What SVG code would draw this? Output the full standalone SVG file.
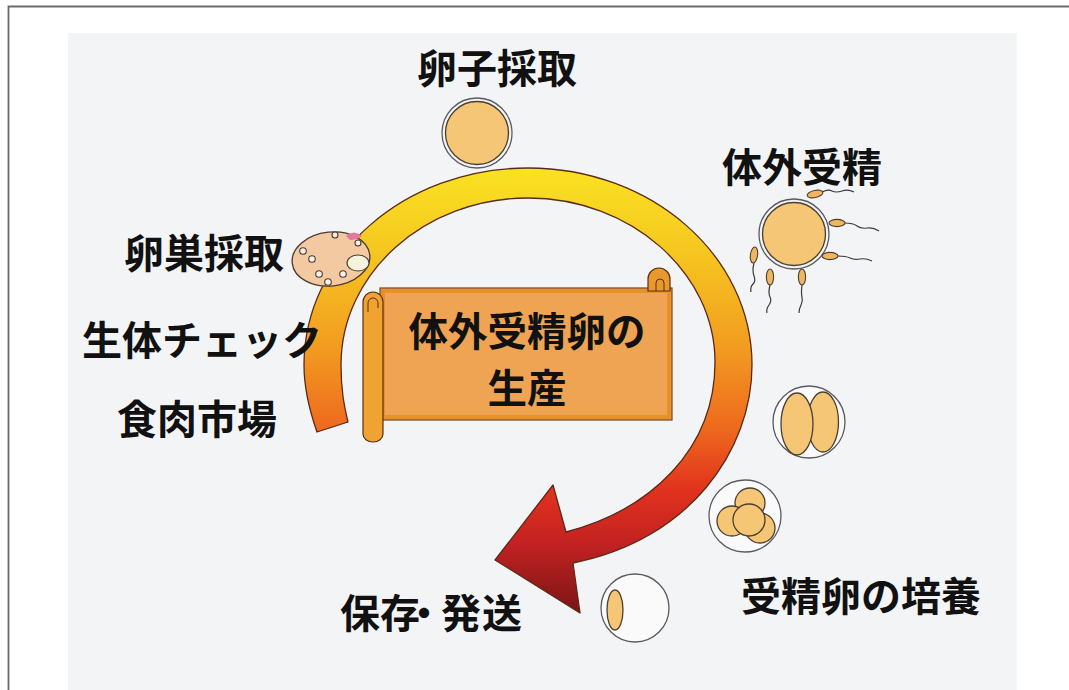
<svg xmlns="http://www.w3.org/2000/svg" width="1069" height="690" viewBox="0 0 1069 690">
  <style>
    .lbl { font-family: "Noto Sans CJK JP", "Noto Sans", sans-serif; font-weight: 700; fill: #111; }
    .ring { fill: none; stroke: #5a5a60; stroke-width: 1.3; }
    .zona { fill: #fafafa; stroke: #5a5a60; stroke-width: 1.3; }
    .cell { fill: #f6c677; stroke: #4a4030; stroke-width: 1.3; }
    .head { fill: #f0b560; stroke: #4a4030; stroke-width: 1.1; }
    .tail { fill: none; stroke: #3a3a40; stroke-width: 1.2; }
    .foll { fill: #fbf0e6; stroke: #4a3a30; stroke-width: 1.1; }
  </style>
  <defs>
    <linearGradient id="bandGrad" gradientUnits="userSpaceOnUse" x1="0" y1="168" x2="0" y2="615">
      <stop offset="0" stop-color="#f9e222"/>
      <stop offset="0.18" stop-color="#f6c820"/>
      <stop offset="0.4" stop-color="#f29c20"/>
      <stop offset="0.58" stop-color="#ee6a1e"/>
      <stop offset="0.72" stop-color="#e2321e"/>
      <stop offset="0.84" stop-color="#c22222"/>
      <stop offset="1" stop-color="#7a1414"/>
    </linearGradient>
  </defs>

  <!-- frame and panel -->
  <rect x="0" y="0" width="1069" height="690" fill="#ffffff"/>
  <path d="M8.5,690 V6.5 H1069" fill="none" stroke="#6a6a6a" stroke-width="1.8"/>
  <rect x="68" y="33" width="949" height="657" fill="#f3f4f6"/>

  <!-- connectors: the cycle arrow -->
  <g id="connectors">
    <path id="cycle-arrow" d="M317,432 C310,412 304,390 304,365 C304,256 404,168 528,168 C652,168 752,256 752,365 C752,450 690,540 573,563 L580,613 L495,560 L553,485 L566,532 C650,510 715,450 715,362 C715,273 631,198 528,198 C425,198 341,273 341,365 C341,390 344,405 348,422 Z" fill="url(#bandGrad)" stroke="#5a2a18" stroke-width="1.3" stroke-linejoin="round"/>
  </g>

  <!-- centre scroll -->
  <g id="node-centre">
    <rect x="380" y="288" width="292" height="132" fill="#eea452" stroke="#7a4418" stroke-width="1.2"/>
    <rect x="383" y="291" width="286" height="126" fill="none" stroke="#e8912a" stroke-width="4"/>
    <!-- right curl -->
    <path d="M648,291 V279 A11,11 0 0 1 670,279 V291 Z" fill="#e9982e" stroke="#5a3010" stroke-width="1.2"/>
    <path d="M656,291 V283 A4,4 0 0 1 664,283 V291" fill="none" stroke="#5a3010" stroke-width="1"/>
    <!-- left roll -->
    <path d="M363,302 A10,10 0 0 1 383,302 V434 A10,8 0 0 1 363,434 Z" fill="#f0a232" stroke="#5a3010" stroke-width="1.2"/>
    <path d="M368,312 V303 A5,5 0 0 1 378,303 V308" fill="none" stroke="#5a3010" stroke-width="1"/>
    <text class="lbl" x="527" y="346" font-size="39.5" text-anchor="middle">体外受精卵の</text>
    <text class="lbl" x="527" y="403" font-size="39.5" text-anchor="middle">生産</text>
  </g>

  <!-- ovary -->
  <g id="node-ovary">
    <ellipse cx="331" cy="259" rx="39" ry="27" transform="rotate(-6 331 259)" fill="#f3c9a2" stroke="#4a3a30" stroke-width="1.3"/>
    <path d="M346,236 Q354,229 362,236 Q357,240 350,240 Z" fill="#e2789a" stroke="none"/>
    <ellipse cx="358" cy="263" rx="11" ry="8" fill="#f4f3dc" stroke="#4a3a30" stroke-width="1.1"/>
    <circle class="foll" cx="303" cy="251" r="3.3"/>
    <circle class="foll" cx="312" cy="259" r="3.3"/>
    <circle class="foll" cx="319" cy="274" r="3.3"/>
    <circle class="foll" cx="328" cy="282" r="3.3"/>
    <circle class="foll" cx="343" cy="274" r="3.3"/>
    <circle class="foll" cx="335" cy="235" r="3"/>
    <circle class="foll" cx="358" cy="243" r="3"/>
    <text class="lbl" x="204" y="268" font-size="40" text-anchor="middle">卵巣採取</text>
  </g>

  <g id="node-check">
    <text class="lbl" x="202" y="355" font-size="40" text-anchor="middle">生体チェック</text>
  </g>

  <g id="node-market">
    <text class="lbl" x="197" y="434" font-size="40" text-anchor="middle">食肉市場</text>
  </g>

  <!-- oocyte collection -->
  <g id="node-oocyte">
    <circle class="ring" cx="477" cy="133" r="35"/>
    <circle class="cell" cx="477" cy="133" r="31.5"/>
    <text class="lbl" x="497" y="83" font-size="40" text-anchor="middle">卵子採取</text>
  </g>

  <!-- fertilisation -->
  <g id="node-ivf">
    <circle class="ring" cx="794" cy="234" r="35"/>
    <circle class="cell" cx="794" cy="234" r="31.5"/>
    <path class="tail" d="M822,192 q6,-3 10,-1 t10,0 t12,1"/>
    <ellipse class="head" cx="815" cy="194" rx="8" ry="3.6" transform="rotate(-12 815 194)"/>
    <path class="tail" d="M845,223 q8,0 12,3 t10,2 t12,3"/>
    <ellipse class="head" cx="837" cy="223" rx="8" ry="3.6"/>
    <path class="tail" d="M838,256 q8,0 12,2 t10,1 t12,2"/>
    <ellipse class="head" cx="830" cy="256" rx="8" ry="3.6"/>
    <path class="tail" d="M754,263 q-2,8 0,13 t-1,8 t-2,8"/>
    <ellipse class="head" cx="754" cy="255" rx="3.6" ry="8" transform="rotate(8 754 255)"/>
    <path class="tail" d="M770,285 q-2,8 0,12 t-1,8 t-2,8"/>
    <ellipse class="head" cx="770" cy="277" rx="3.6" ry="8"/>
    <path class="tail" d="M802,285 q-1,8 0,12 t-1,8 t-2,8"/>
    <ellipse class="head" cx="802" cy="277" rx="3.6" ry="8"/>
    <text class="lbl" x="802" y="182" font-size="40" text-anchor="middle">体外受精</text>
  </g>

  <!-- embryo culture -->
  <g id="node-culture">
    <circle class="zona" cx="809" cy="422" r="36"/>
    <ellipse class="cell" cx="823" cy="422" rx="15.5" ry="30"/>
    <ellipse class="cell" cx="797" cy="424" rx="16" ry="31"/>
    <circle class="zona" cx="745" cy="516" r="36"/>
    <circle class="cell" cx="750" cy="503" r="15"/>
    <circle class="cell" cx="760" cy="528" r="15"/>
    <circle class="cell" cx="732" cy="521" r="15"/>
    <circle class="cell" cx="749" cy="520" r="16"/>
    <text class="lbl" x="861" y="611" font-size="40" text-anchor="middle">受精卵の培養</text>
  </g>

  <!-- storage and shipping -->
  <g id="node-storage">
    <circle class="zona" cx="635" cy="608" r="34"/>
    <ellipse class="cell" cx="615" cy="610" rx="8" ry="20"/>
    <text class="lbl" x="340 380 404 441 482" y="628" font-size="40">保存・発送</text>
  </g>
</svg>
